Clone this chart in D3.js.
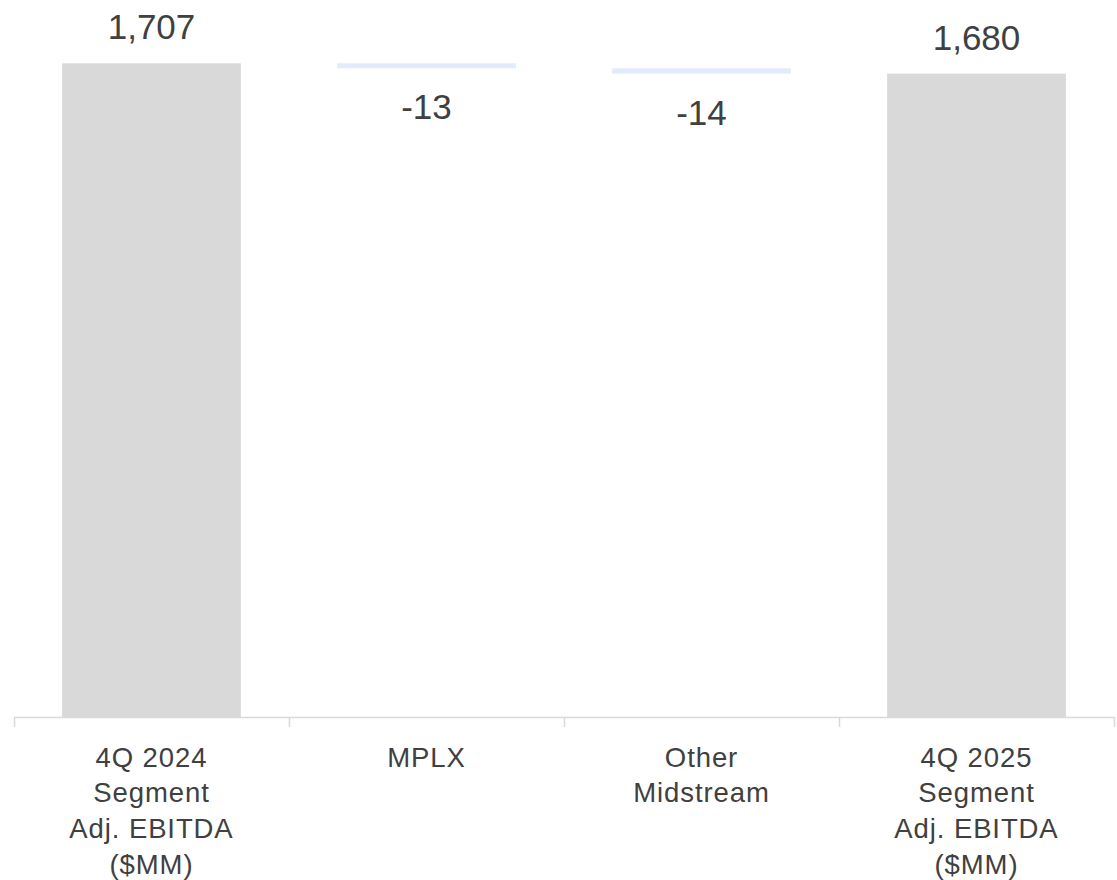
<!DOCTYPE html>
<html>
<head>
<meta charset="utf-8">
<script src="https://cdn.jsdelivr.net/npm/d3@7"></script>
<style>
  html, body { margin: 0; padding: 0; background: #fff; }
  svg { display: block; font-family: "Liberation Sans", Arial, sans-serif; }
</style>
</head>
<body>
<svg id="chart" width="1117" height="880"></svg>
<script>
// Data
const categories = ["4Q 2024 Segment Adj. EBITDA ($MM)", "MPLX", "Other Midstream", "4Q 2025 Segment Adj. EBITDA ($MM)"];
const categoryLines = [
  ["4Q 2024", "Segment", "Adj. EBITDA", "($MM)"],
  ["MPLX"],
  ["Other", "Midstream"],
  ["4Q 2025", "Segment", "Adj. EBITDA", "($MM)"]
];
const values = [1707, -13, -14, 1680];
const kinds = ["total", "delta", "delta", "total"];
const valueLabels = ["1,707", "-13", "-14", "1,680"];

// Build waterfall segments
let running = 0;
const bars = categories.map((c, i) => {
  let y0, y1;
  if (kinds[i] === "total") { y0 = 0; y1 = values[i]; running = values[i]; }
  else { y0 = running; y1 = running + values[i]; running = y1; }
  return { cat: c, lines: categoryLines[i], kind: kinds[i], v: values[i], lo: Math.min(y0, y1), hi: Math.max(y0, y1), label: valueLabels[i] };
});

const svg = d3.select("#chart");
const left = 14, right = 1114, baseY = 717, topY = 63.3;

const x = d3.scaleBand().domain(categories).range([left, right]).paddingInner(0.35).paddingOuter(0.175);
const y = d3.scaleLinear().domain([0, 1707]).range([baseY, topY]);

const textColor = "#404040";

// Bars
svg.append("g").selectAll("rect").data(bars).join("rect")
  .attr("x", d => x(d.cat))
  .attr("width", x.bandwidth())
  .attr("y", d => y(d.hi))
  .attr("height", d => y(d.lo) - y(d.hi))
  .attr("fill", d => d.kind === "total" ? "#d9d9d9" : "#e1ebfb");

// Value labels
svg.append("g").selectAll("text").data(bars).join("text")
  .attr("x", d => x(d.cat) + x.bandwidth() / 2)
  .attr("y", d => d.v >= 0 ? y(d.hi) - 24 : y(d.lo) + 51)
  .attr("text-anchor", "middle")
  .attr("font-size", 35)
  .attr("fill", textColor)
  .text(d => d.label);

// X axis
const step = x.step();
const gap = x.paddingInner() * step / 2;
const boundaries = categories.map(c => x(c) - gap).concat([x(categories[categories.length - 1]) + x.bandwidth() + gap]);

const axisG = svg.append("g");
axisG.append("line")
  .attr("x1", left).attr("x2", right)
  .attr("y1", baseY + 0.5).attr("y2", baseY + 0.5)
  .attr("stroke", "#d9d9d9").attr("stroke-width", 1.5);
axisG.selectAll("line.tick").data(boundaries).join("line")
  .attr("class", "tick")
  .attr("x1", d => Math.round(d) + 0.5).attr("x2", d => Math.round(d) + 0.5)
  .attr("y1", baseY).attr("y2", baseY + 10)
  .attr("stroke", "#d9d9d9").attr("stroke-width", 1.5);

const labels = axisG.selectAll("text.cat").data(bars).join("text")
  .attr("class", "cat")
  .attr("text-anchor", "middle")
  .attr("font-size", 27.5)
  .attr("letter-spacing", 0.9)
  .attr("fill", textColor);
labels.each(function(d) {
  const t = d3.select(this);
  d.lines.forEach((ln, k) => {
    t.append("tspan")
      .attr("x", x(d.cat) + x.bandwidth() / 2)
      .attr("y", 766.7 + k * 35.7)
      .text(ln);
  });
});
</script>
</body>
</html>
